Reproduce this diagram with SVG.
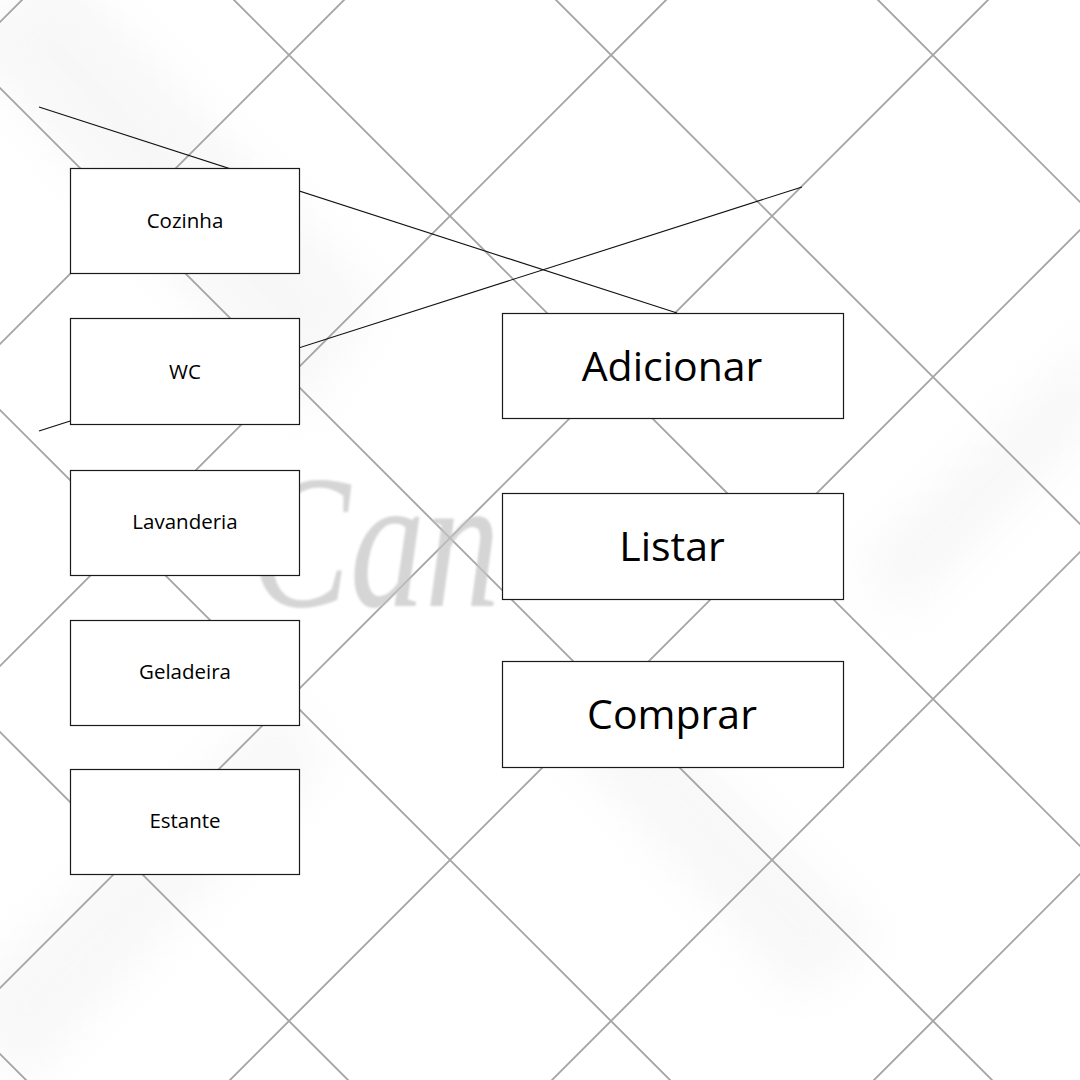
<svg xmlns="http://www.w3.org/2000/svg" width="1080" height="1080" viewBox="0 0 1080 1080">
  <defs>
    <filter id="blurBig" x="-30%" y="-30%" width="160%" height="160%">
      <feGaussianBlur stdDeviation="22"/>
    </filter>
    <filter id="soft" x="-5%" y="-5%" width="110%" height="110%">
      <feGaussianBlur stdDeviation="0.5"/>
    </filter>
    <filter id="wm" x="-10%" y="-10%" width="130%" height="130%">
      <feGaussianBlur stdDeviation="1.2"/>
    </filter>
  </defs>
  <style>
    .grid { stroke: #a6a6a6; stroke-width: 1.9; fill: none; }
    .box { fill: #ffffff; stroke: #1a1a1a; stroke-width: 1.2; }
    .lbl { font-family: "Open Sans", "Noto Sans", "DejaVu Sans", sans-serif; fill: #000000; text-anchor: middle; }
    .small { font-size: 20.5px; }
    .big { font-size: 41px; }
    .conn { stroke: #111111; stroke-width: 1.1; fill: none; }
    .shade { fill: #e8e8e8; }
  </style>

  <rect x="0" y="0" width="1080" height="1080" fill="#ffffff"/>
  <!-- soft background bands -->
  <g id="shading" filter="url(#blurBig)" opacity="0.3">
    <polygon class="shade" points="-40,40 60,-40 380,300 300,420"/>
    <polygon class="shade" points="-40,1000 280,700 330,760 20,1090"/>
    <polygon class="shade" points="560,740 640,700 880,940 800,1000"/>
    <polygon class="shade" points="860,560 1100,330 1100,420 900,620"/>
  </g>

  <!-- diagonal grid -->
  <g id="grid" filter="url(#soft)">
    <path class="grid" d="M-1064,-10 L36,1090 M-742,-10 L358,1090 M-420,-10 L680,1090 M-98,-10 L1002,1090 M224,-10 L1324,1090 M546,-10 L1646,1090 M868,-10 L1968,1090
                          M32,-10 L-1068,1090 M354,-10 L-746,1090 M676,-10 L-424,1090 M998,-10 L-102,1090 M1320,-10 L220,1090 M1642,-10 L542,1090 M1964,-10 L864,1090"/>
  </g>

  <!-- watermark (visible part) -->
  <g id="watermark" filter="url(#wm)">
    <text x="250" y="606" font-family="'Liberation Serif', 'DejaVu Serif', serif" font-style="italic" font-size="190" fill="#c4c4c4" opacity="0.7" textLength="250" lengthAdjust="spacingAndGlyphs">Can</text>
  </g>

  <!-- connectors -->
  <g id="connectors">
    <line class="conn" x1="39" y1="107" x2="677" y2="313"/>
    <line class="conn" x1="802" y1="187" x2="39" y2="431"/>
  </g>

  <!-- nodes -->
  <g id="node-cozinha">
    <rect class="box" x="70.5" y="168.5" width="229" height="105"/>
    <text class="lbl small" x="185" y="227.5">Cozinha</text>
  </g>
  <g id="node-wc">
    <rect class="box" x="70.5" y="318.5" width="229" height="106"/>
    <text class="lbl small" x="185" y="378.5">WC</text>
  </g>
  <g id="node-lavanderia">
    <rect class="box" x="70.5" y="470.5" width="229" height="105"/>
    <text class="lbl small" x="185" y="529">Lavanderia</text>
  </g>
  <g id="node-geladeira">
    <rect class="box" x="70.5" y="620.5" width="229" height="105"/>
    <text class="lbl small" x="185" y="679">Geladeira</text>
  </g>
  <g id="node-estante">
    <rect class="box" x="70.5" y="769.5" width="229" height="105"/>
    <text class="lbl small" x="185" y="828">Estante</text>
  </g>
  <g id="node-adicionar">
    <rect class="box" x="502.5" y="313.5" width="341" height="105"/>
    <text class="lbl big" x="672" y="380.5">Adicionar</text>
  </g>
  <g id="node-listar">
    <rect class="box" x="502.5" y="493.5" width="341" height="106"/>
    <text class="lbl big" x="672" y="561">Listar</text>
  </g>
  <g id="node-comprar">
    <rect class="box" x="502.5" y="661.5" width="341" height="106"/>
    <text class="lbl big" x="672" y="729">Comprar</text>
  </g>
</svg>
